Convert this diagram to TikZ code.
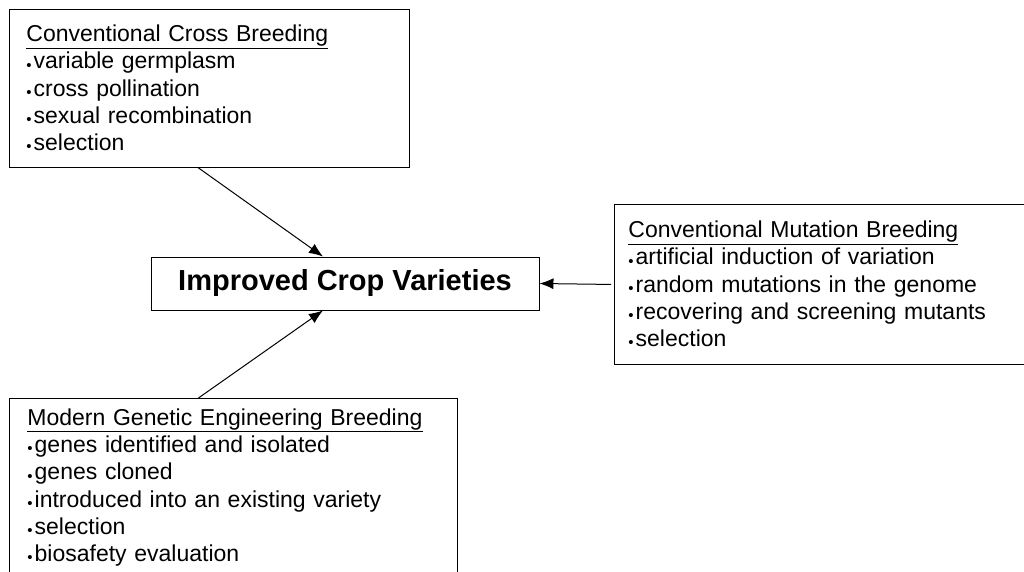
\documentclass[tikz,border=0pt]{standalone}
\usepackage{fontspec}
\setmainfont{Liberation Sans}
\usepackage{tikz}
\usetikzlibrary{arrows.meta}

\newcommand{\bul}{\raisebox{-1.2pt}{\fontsize{15}{15}\selectfont •}\hspace{2pt}}
\tikzset{
    box/.style={draw, line width=0.9pt, anchor=north west, align=left,
        font=\fontsize{23}{27.2}\selectfont, inner ysep=4pt},
    link/.style={line width=1pt, -{Latex[length=14pt,width=11pt]}},
}

\begin{document}
\begin{tikzpicture}[x=1pt,y=1pt]
    \useasboundingbox (0,0) rectangle (1024,-572);
        % sources
        \node [box, inner xsep=17pt, text width=366pt, minimum height=158pt] (cross) at (9,-9)
            {\underline{Conventional Cross Breeding}\\
             \bul variable germplasm\\
             \bul cross pollination\\
             \bul sexual recombination\\
             \bul selection};
        \node [box, inner xsep=14pt, text width=420pt, minimum height=160pt] (mutation) at (614,-204)
            {\underline{Conventional Mutation Breeding}\\
             \bul artificial induction of variation\\
             \bul random mutations in the genome\\
             \bul recovering and screening mutants\\
             \bul selection};
        \node [box, inner xsep=18pt, text width=412pt, minimum height=178pt] (genetic) at (9,-398)
            {\underline{Modern Genetic Engineering Breeding}\\
             \bul genes identified and isolated\\
             \bul genes cloned\\
             \bul introduced into an existing variety\\
             \bul selection\\
             \bul biosafety evaluation};
        % target
        \node [draw, line width=0.9pt, minimum width=388pt, minimum height=53pt,
            font=\fontsize{29}{34}\selectfont\bfseries] (centre) at (345,-283.5)
            {Improved Crop Varieties};
        % arrows
        \draw [link] ([xshift=-11pt]cross.south) -- ([xshift=-22pt]centre.north);
        \draw [link] ([xshift=-35pt]genetic.north) -- ([xshift=-22pt]centre.south);
        \draw [link] ([xshift=-3pt]mutation.west) -- (centre.east);
    \end{tikzpicture}
\end{document}
